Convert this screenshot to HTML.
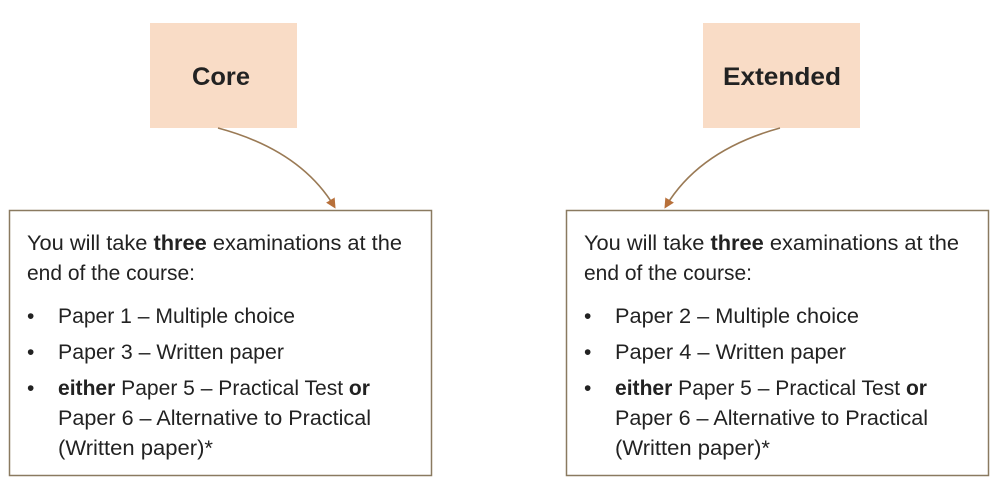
<!DOCTYPE html>
<html><head><style>
html,body{margin:0;padding:0;background:#fff;}
svg{display:block;}
text{font-family:"Liberation Sans",sans-serif;font-size:21px;fill:#222;}
.b{font-weight:bold;}
</style></head><body>
<svg width="996" height="483" viewBox="0 0 996 483">
<defs>
<marker id="ah" markerWidth="10" markerHeight="10" refX="7" refY="5" orient="auto" markerUnits="userSpaceOnUse">
<path d="M0,0 L10,5 L0,10 z" fill="#b8703a"/>
</marker>
</defs>
<rect x="150" y="23" width="147" height="105" fill="#f9dcc6"/>
<text x="221" y="85" text-anchor="middle" class="b" style="font-size:25px" textLength="58" lengthAdjust="spacingAndGlyphs">Core</text>
<rect x="703" y="23" width="157" height="105" fill="#f9dcc6"/>
<text x="782" y="85" text-anchor="middle" class="b" style="font-size:25px" textLength="118" lengthAdjust="spacingAndGlyphs">Extended</text>
<path d="M218,128 Q300,150 334,206" fill="none" stroke="#9a7a55" stroke-width="1.6" marker-end="url(#ah)"/>
<path d="M780,128 Q700,150 666,206" fill="none" stroke="#9a7a55" stroke-width="1.6" marker-end="url(#ah)"/>
<g id="L">
<rect x="9.5" y="210.5" width="422" height="265" fill="#fff" stroke="#8a7a60" stroke-width="1.5"/>
<text x="27" y="250" textLength="375" lengthAdjust="spacingAndGlyphs">You will take <tspan class="b">three</tspan> examinations at the</text>
<text x="27" y="280" textLength="168" lengthAdjust="spacingAndGlyphs">end of the course:</text>
<text x="27" y="323">•</text><text x="27" y="359">•</text><text x="27" y="395">•</text>
</g>
<text x="58" y="323" textLength="237" lengthAdjust="spacingAndGlyphs">Paper 1 – Multiple choice</text>
<text x="58" y="359" textLength="226" lengthAdjust="spacingAndGlyphs">Paper 3 – Written paper</text>
<text x="58" y="395" textLength="312" lengthAdjust="spacingAndGlyphs"><tspan class="b">either</tspan> Paper 5 – Practical Test <tspan class="b">or</tspan></text>
<text x="58" y="425" textLength="313" lengthAdjust="spacingAndGlyphs">Paper 6 – Alternative to Practical</text>
<text x="58" y="455" textLength="155" lengthAdjust="spacingAndGlyphs">(Written paper)*</text>
<use href="#L" x="557"/>
<text x="615" y="323" textLength="244" lengthAdjust="spacingAndGlyphs">Paper 2 – Multiple choice</text>
<text x="615" y="359" textLength="231" lengthAdjust="spacingAndGlyphs">Paper 4 – Written paper</text>
<text x="615" y="395" textLength="312" lengthAdjust="spacingAndGlyphs"><tspan class="b">either</tspan> Paper 5 – Practical Test <tspan class="b">or</tspan></text>
<text x="615" y="425" textLength="313" lengthAdjust="spacingAndGlyphs">Paper 6 – Alternative to Practical</text>
<text x="615" y="455" textLength="155" lengthAdjust="spacingAndGlyphs">(Written paper)*</text>
</svg>
</body></html>
